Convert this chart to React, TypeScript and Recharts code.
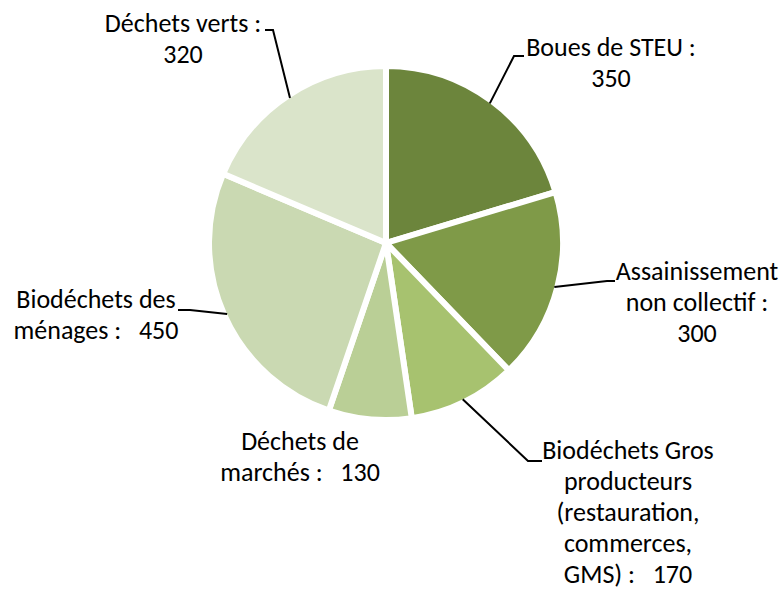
import { Cell, Pie, PieChart } from "recharts";

const categories = [
  "Boues de STEU",
  "Assainissement non collectif",
  "Biodéchets Gros producteurs (restauration, commerces, GMS)",
  "Déchets de marchés",
  "Biodéchets des ménages",
  "Déchets verts",
];
const values = [350, 300, 170, 130, 450, 320];
// how Excel wrapped each label; {v} is replaced by the value
const labelLines = [
  ["Boues de STEU :", "{v}"],
  ["Assainissement", "non collectif :", "{v}"],
  ["Biodéchets Gros", "producteurs", "(restauration,", "commerces,", "GMS) :   {v}"],
  ["Déchets de", "marchés :   {v}"],
  ["Biodéchets des", "ménages :   {v}"],
  ["Déchets verts :", "{v}"],
];
const colors = ["#6C853C", "#7F9A48", "#A7C26F", "#BACF96", "#CAD9B2", "#DAE4CA"];

// label placement relative to pie centre: elbow, end of short tick, text centre, first line y
const labelLayout = [
  { elbow: [128, -187], end: 138, tx: 225, ty: -196 },
  { elbow: [221, 38], end: 229, tx: 311, ty: 28 },
  { elbow: [142, 218], end: 156, tx: 242, ty: 207 },
  { elbow: null, end: 0, tx: -86, ty: 198 },
  { elbow: [-196, 67], end: -208, tx: -290, ty: 56 },
  { elbow: [-113, -213], end: -121, tx: -203, ty: -220 },
];

const data = categories.map((name, i) => ({ name, value: values[i] }));

const FONT = "Carlito, 'Liberation Sans Narrow', 'DejaVu Sans Condensed', sans-serif";
const RAD = Math.PI / 180;
const LINE_H = 31;

function renderLabel(props: any) {
  const { cx, cy, midAngle, index, value } = props;
  const r = 174;
  const lay = labelLayout[index];
  const sx = cx + Math.cos(-midAngle * RAD) * r;
  const sy = cy + Math.sin(-midAngle * RAD) * r;
  const lines = labelLines[index].map((l) => l.replace("{v}", String(value)));
  return (
    <g key={`lbl-${index}`}>
      {lay.elbow && (
        <polyline
          points={`${sx},${sy} ${cx + lay.elbow[0]},${cy + lay.elbow[1]} ${cx + lay.end},${cy + lay.elbow[1]}`}
          fill="none"
          stroke="#000"
          strokeWidth={2}
        />
      )}
      {lines.map((line, j) => (
        <text
          key={j}
          x={cx + lay.tx}
          y={cy + lay.ty + j * LINE_H}
          textAnchor="middle"
          dominantBaseline="central"
          fill="#000"
          fontSize={26}
          fontFamily={FONT}
          style={{ whiteSpace: "pre" }}
        >
          {line}
        </text>
      ))}
    </g>
  );
}

export default function App() {
  return (
    <div style={{ position: "absolute", left: 0, top: 0, width: 781, height: 590, background: "#fff" }}>
      <PieChart width={781} height={590} margin={{ top: 0, right: 0, bottom: 0, left: 0 }}>
        <Pie
          data={data}
          dataKey="value"
          nameKey="name"
          cx={386}
          cy={243}
          outerRadius={177}
          startAngle={90}
          endAngle={-270}
          stroke="#fff"
          strokeWidth={6}
          label={renderLabel}
          labelLine={false}
          isAnimationActive={false}
        >
          {data.map((d, i) => (
            <Cell key={d.name} fill={colors[i]} />
          ))}
        </Pie>
      </PieChart>
    </div>
  );
}
